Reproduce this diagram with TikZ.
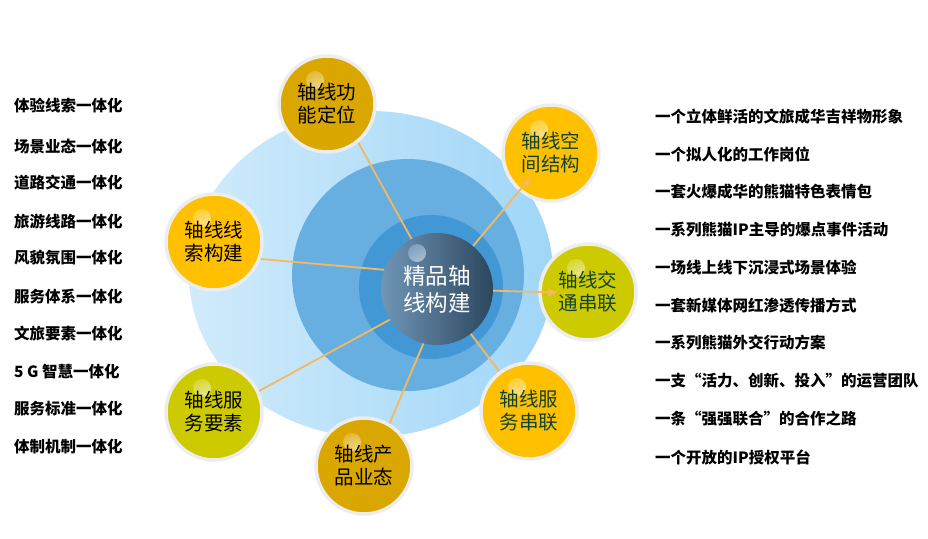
\documentclass[tikz,border=0pt]{standalone}
\usepackage{fontspec}
\setmainfont{Noto Sans CJK SC}
\usetikzlibrary{arrows.meta}

\definecolor{ballgold}{RGB}{218,166,0}
\definecolor{ballamber}{RGB}{255,192,0}
\definecolor{ballolive}{RGB}{205,203,0}
\definecolor{linkorange}{RGB}{246,184,92}
\definecolor{textgreen}{RGB}{18,66,50}
\definecolor{ringpale}{RGB}{208,235,251}
\definecolor{ringsky}{RGB}{160,214,248}
\definecolor{ringmid}{RGB}{104,175,225}
\definecolor{ringdeep}{RGB}{66,152,213}
\definecolor{coretop}{RGB}{112,150,182}
\definecolor{corebottom}{RGB}{44,70,94}

\tikzset{
    glossy/.style={fill=#1,
        path picture={\shade[inner color=white!85!#1, outer color=#1]
            ([xshift=-12pt,yshift=24pt]path picture bounding box.center) circle (9pt);}},
    listtext/.style={anchor=west, inner sep=0pt, font=\bfseries\fontsize{15.5}{18}\selectfont}
}

\begin{document}
\begin{tikzpicture}[x=1pt,y=-1pt,>={Latex[length=10pt,width=9pt]}]
    \useasboundingbox (0,0) rectangle (928,538);

        % rings behind the hub
        \shade[left color=ringpale, right color=ringsky] (371,274) ellipse (182pt and 163pt);
        \fill[ringmid] (408,275) circle (116pt);
        \fill[ringdeep] (431,287) circle (72pt);

        \node[circle, minimum size=112pt, inner sep=0pt, align=center, text=white,
              left color=coretop, right color=corebottom,
              font=\fontsize{22.5}{27}\selectfont,
              path picture={\shade[inner color=white!90!coretop, outer color=coretop]
                  ([xshift=-20pt,yshift=36pt]path picture bounding box.center) circle (9pt);}]
            (0) at (437,289) {精品轴\\线构建};

        \begin{scope}[every node/.style={circle, minimum size=96pt, inner sep=0pt, draw=black!7,
                      line width=3.5pt, align=center, font=\fontsize{19.5}{23}\selectfont}]
            \node[glossy=ballgold] (1) at (327,104) {轴线功\\能定位};
            \node[glossy=ballamber, text=textgreen] (2) at (551,153) {轴线空\\间结构};
            \node[glossy=ballolive, text=textgreen] (3) at (588,292) {轴线交\\通串联};
            \node[glossy=ballamber, text=textgreen] (4) at (529,411) {轴线服\\务串联};
            \node[glossy=ballgold] (5) at (364,466) {轴线产\\品业态};
            \node[glossy=ballolive] (6) at (214,412) {轴线服\\务要素};
            \node[glossy=ballamber] (7) at (214,242) {轴线线\\索构建};
        \end{scope}

        \begin{scope}[every edge/.style={draw=linkorange, line width=1.8pt}]
            \path (1.-51) edge (0.117)
                  (7.-20) edge (0.160)
                  (6.25) edge (0.-147)
                  (5.59) edge (0.-104)
                  (0.-53) edge (4.127);
            \path [->] (0) edge [shorten >=30pt] (2.center)
                       (0) edge [shorten >=-20pt] (3.west);
        \end{scope}

        % left column
        \node[listtext] (l1) at (14,106) {体验线索一体化};
        \node[listtext] (l2) at (14,146) {场景业态一体化};
        \node[listtext] (l3) at (14,183) {道路交通一体化};
        \node[listtext] (l4) at (14,222) {旅游线路一体化};
        \node[listtext] (l5) at (14,258) {风貌氛围一体化};
        \node[listtext] (l6) at (14,297) {服务体系一体化};
        \node[listtext] (l7) at (14,334) {文旅要素一体化};
        \node[listtext] (l8) at (14,372) {5 G 智慧一体化};
        \node[listtext] (l9) at (14,409) {服务标准一体化};
        \node[listtext] (l10) at (14,447) {体制机制一体化};

        % right column
        \node[listtext] (r1) at (655,117) {一个立体鲜活的文旅成华吉祥物形象};
        \node[listtext] (r2) at (655,154) {一个拟人化的工作岗位};
        \node[listtext] (r3) at (655,192) {一套火爆成华的熊猫特色表情包};
        \node[listtext] (r4) at (655,230) {一系列熊猫IP主导的爆点事件活动};
        \node[listtext] (r5) at (655,268) {一场线上线下沉浸式场景体验};
        \node[listtext] (r6) at (655,306) {一套新媒体网红渗透传播方式};
        \node[listtext] (r7) at (655,343) {一系列熊猫外交行动方案};
        \node[listtext] (r8) at (655,381) {一支“活力、创新、投入”的运营团队};
        \node[listtext] (r9) at (655,419) {一条“强强联合”的合作之路};
        \node[listtext] (r10) at (655,457) {一个开放的IP授权平台};

    \end{tikzpicture}
\end{document}
